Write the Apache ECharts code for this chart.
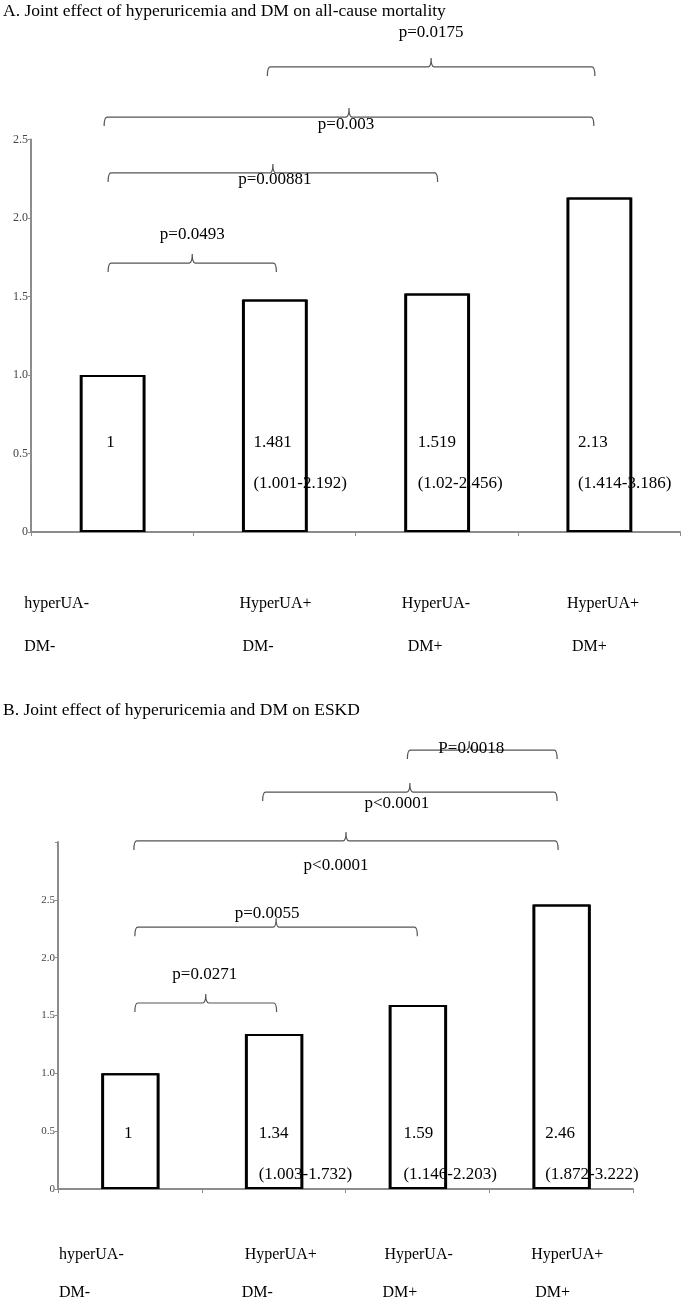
<!DOCTYPE html>
<html><head><meta charset="utf-8">
<script src="https://cdn.jsdelivr.net/npm/echarts@6/dist/echarts.min.js"></script>
<style>html,body{margin:0;padding:0;background:#fff}#c{width:685px;height:1303px}</style>
</head><body><div id="c"></div>
<script>
// ---------- data ----------
const catLine1 = ['hyperUA-', 'HyperUA+', 'HyperUA-', 'HyperUA+'];
const catLine2 = ['DM-', 'DM-', 'DM+', 'DM+'];

const mortalityHR = [1, 1.481, 1.519, 2.13];
const mortalityCI = ['', '(1.001-2.192)', '(1.02-2.456)', '(1.414-3.186)'];
const mortalityPairs = [[0, 1], [0, 2], [0, 3], [1, 3]];
const mortalityP = ['p=0.0493', 'p=0.00881', 'p=0.003', 'p=0.0175'];
const mortalityTicks = ['0', '0.5', '1.0', '1.5', '2.0', '2.5'];

const eskdHR = [1, 1.34, 1.59, 2.46];
const eskdCI = ['', '(1.003-1.732)', '(1.146-2.203)', '(1.872-3.222)'];
const eskdPairs = [[0, 1], [0, 2], [0, 3], [1, 3], [2, 3]];
const eskdP = ['p=0.0271', 'p=0.0055', 'p<0.0001', 'p<0.0001', 'P=0.0018'];
const eskdTicks = ['0', '0.5', '1.0', '1.5', '2.0', '2.5', ''];

const titleA = 'A. Joint effect of hyperuricemia and DM on all-cause mortality';
const titleB = 'B. Joint effect of hyperuricemia and DM on ESKD';

// ---------- layout / style ----------
const SERIF = '"Liberation Serif", "Times New Roman", serif';
const AXIS_GRAY = '#8c8c8c';

const layA = {
  level: [1.713, 2.287, 2.643, 2.962],
  dx: [[-4, 2], [-4, 1], [-8, -5], [-7, -4]],
  peak: [0, 0, 0, 0],
  lx: [0, 2, -3, 0],
  ly: [-29, 7, 7, -34],
  valDx: [-6, -21, -19, -21], valUp: [89, 48],
  cat1Dx: [-88, -35, -35, -32], cat2Dx: [-88, -32, -29, -27], catDown: [72, 115]
};
const layB = {
  level: [1.608, 2.264, 3.009, 3.432, 3.795],
  dx: [[5, 3], [5, 0], [4, -3], [-11, -4], [-10, -4]],
  peak: [0, 0, 0, 0, -13],
  lx: [-1, -9, -10, -13, 2],
  ly: [-28, -14, 25, 11, -2],
  valDx: [-6, -15, -14, -16], valUp: [55, 14],
  cat1Dx: [-71, -29, -33, -30], cat2Dx: [-71, -32, -35, -26], catDown: [66, 104]
};

function txt(x, y, text, align, size) {
  return { type: 'text', x: x, y: y, style: { text: text, fill: '#000', fontSize: size || 17,
    fontFamily: SERIF, align: align || 'left', verticalAlign: 'middle' } };
}

function barSeries(g, values) {
  return {
    type: 'bar', xAxisIndex: g, yAxisIndex: g, data: values, barWidth: '40%',
    itemStyle: { color: '#fff', borderColor: '#000', borderWidth: 2,
      shadowColor: '#000', shadowOffsetX: 1, shadowBlur: 0 },
    emphasis: { disabled: true }, silent: true, z: 2
  };
}

function valueLabelSeries(g, hr, ci, lay) {
  return {
    type: 'custom', xAxisIndex: g, yAxisIndex: g, clip: false, silent: true, z: 5,
    data: hr.map((v, i) => [i, v]),
    renderItem(params, api) {
      const i = params.dataIndex;
      const base = api.coord([api.value(0), 0]);
      const x = base[0] + lay.valDx[i];
      const ch = [txt(x, base[1] - lay.valUp[0], String(hr[i]))];
      if (ci[i]) ch.push(txt(x, base[1] - lay.valUp[1], ci[i]));
      return { type: 'group', children: ch };
    }
  };
}

function catLabelSeries(g, lay) {
  return {
    type: 'custom', xAxisIndex: g, yAxisIndex: g, clip: false, silent: true, z: 5,
    data: catLine1.map((c, i) => [i, 0]),
    renderItem(params, api) {
      const i = params.dataIndex;
      const base = api.coord([api.value(0), 0]);
      return { type: 'group', children: [
        txt(base[0] + lay.cat1Dx[i], base[1] + lay.catDown[0], catLine1[i], 'left', 16),
        txt(base[0] + lay.cat2Dx[i], base[1] + lay.catDown[1], catLine2[i], 'left', 16)
      ] };
    }
  };
}

function bracketSeries(g, pairs, labels, lay) {
  return {
    type: 'custom', xAxisIndex: g, yAxisIndex: g, clip: false, silent: true, z: 4,
    data: pairs.map((p, i) => [p[0], p[1], lay.level[i]]),
    encode: { x: [0, 1], y: 2 },
    renderItem(params, api) {
      const i = params.dataIndex;
      const a = api.coord([api.value(0), api.value(2)]);
      const b = api.coord([api.value(1), api.value(2)]);
      const x0 = a[0] + lay.dx[i][0], x1 = b[0] + lay.dx[i][1], y = a[1];
      const xm = (x0 + x1) / 2 + lay.peak[i];
      const drop = 9, rise = 9, r = 3;
      const d = 'M' + x0 + ' ' + (y + drop) +
        ' Q' + x0 + ' ' + y + ' ' + (x0 + r) + ' ' + y +
        ' L' + (xm - 3) + ' ' + y +
        ' Q' + xm + ' ' + y + ' ' + xm + ' ' + (y - rise) +
        ' Q' + xm + ' ' + y + ' ' + (xm + 3) + ' ' + y +
        ' L' + (x1 - r) + ' ' + y +
        ' Q' + x1 + ' ' + y + ' ' + x1 + ' ' + (y + drop);
      return { type: 'group', children: [
        { type: 'path', shape: { pathData: d }, style: { fill: 'none', stroke: '#555', lineWidth: 1.2 } },
        txt(xm + lay.lx[i], y + lay.ly[i], labels[i], 'center', 17)
      ] };
    }
  };
}

function xAxisCfg(g) {
  return {
    type: 'category', gridIndex: g, data: catLine1,
    axisLine: { lineStyle: { color: AXIS_GRAY, width: 2 } },
    axisTick: { show: true, length: 4, lineStyle: { color: AXIS_GRAY, width: 1 } },
    axisLabel: { show: false }, splitLine: { show: false }
  };
}
function yAxisCfg(g, max, ticks, fs) {
  return {
    type: 'value', gridIndex: g, min: 0, max: max, interval: 0.5,
    axisLine: { show: true, lineStyle: { color: AXIS_GRAY, width: 2 } },
    axisTick: { show: true, length: 3, lineStyle: { color: AXIS_GRAY } },
    axisLabel: { color: '#444', fontSize: fs, fontFamily: SERIF, margin: 3,
      formatter: (v, idx) => ticks[idx] },
    splitLine: { show: false }
  };
}

const chart = echarts.init(document.getElementById('c'), null, { renderer: 'canvas' });
chart.setOption({
  animation: false,
  backgroundColor: '#fff',
  title: [
    { text: titleA, left: 3, top: 2, padding: 0,
      textStyle: { fontFamily: SERIF, fontSize: 17.5, fontWeight: 'normal', color: '#000' } },
    { text: titleB, left: 3, top: 701, padding: 0,
      textStyle: { fontFamily: SERIF, fontSize: 17.5, fontWeight: 'normal', color: '#000' } }
  ],
  grid: [
    { left: 31, top: 139.5, width: 649, height: 392.5 },
    { left: 58, top: 842, width: 575, height: 347 }
  ],
  xAxis: [xAxisCfg(0), xAxisCfg(1)],
  yAxis: [yAxisCfg(0, 2.5, mortalityTicks, 12), yAxisCfg(1, 3, eskdTicks, 11)],
  series: [
    barSeries(0, mortalityHR),
    valueLabelSeries(0, mortalityHR, mortalityCI, layA),
    catLabelSeries(0, layA),
    bracketSeries(0, mortalityPairs, mortalityP, layA),
    barSeries(1, eskdHR),
    valueLabelSeries(1, eskdHR, eskdCI, layB),
    catLabelSeries(1, layB),
    bracketSeries(1, eskdPairs, eskdP, layB)
  ]
});
</script></body></html>
